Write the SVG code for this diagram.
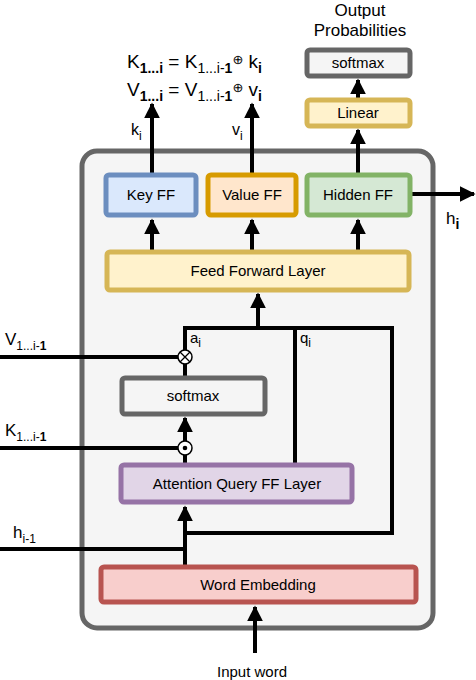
<svg xmlns="http://www.w3.org/2000/svg" width="476" height="680" viewBox="0 0 476 680">
<style>
text{font-family:"Liberation Sans",Arial,sans-serif;fill:#000}
.lbl{font-size:15px;text-anchor:middle}
.box{stroke-width:5}
.ln{stroke:#000;stroke-width:4;fill:none}
.sub{font-size:12px}
.fs{font-size:14px}
.op{font-size:13px;font-family:"DejaVu Sans",sans-serif}
</style>
<defs>
<marker id="ah" markerWidth="4" markerHeight="4" refX="3.6" refY="2" orient="auto" markerUnits="strokeWidth">
<path d="M0,0 L4,2 L0,4 Z" fill="#000"/>
</marker>
</defs>
<rect x="82" y="151" width="351" height="477" rx="15" fill="#f5f5f5" stroke="#666666" stroke-width="5"/>
<g id="connectors">
<path class="ln" d="M152,175 V104" marker-end="url(#ah)"/>
<path class="ln" d="M252,175 V104" marker-end="url(#ah)"/>
<path class="ln" d="M358,175 V130" marker-end="url(#ah)"/>
<path class="ln" d="M358,98 V80" marker-end="url(#ah)"/>
<path class="ln" d="M412,194 H474" marker-end="url(#ah)"/>
<path class="ln" d="M152,250 V220" marker-end="url(#ah)"/>
<path class="ln" d="M252,250 V220" marker-end="url(#ah)"/>
<path class="ln" d="M358,250 V220" marker-end="url(#ah)"/>
<path class="ln" d="M258,328 V294" marker-end="url(#ah)"/>
<path class="ln" d="M185,350 V328 H392 V533 H185"/>
<path class="ln" d="M295,328 V463"/>
<path class="ln" d="M185,364 V376"/>
<path class="ln" d="M0,357 H178"/>
<path class="ln" d="M185,441 V418" marker-end="url(#ah)"/>
<path class="ln" d="M0,448 H178"/>
<path class="ln" d="M185,455 V463"/>
<path class="ln" d="M185,565 V507" marker-end="url(#ah)"/>
<path class="ln" d="M0,549 H185"/>
<path class="ln" d="M255,653 V607" marker-end="url(#ah)"/>
</g>
<g id="mul">
<circle cx="185" cy="357" r="7" fill="#fff" stroke="#000" stroke-width="1.5"/>
<path d="M180,352 L190,362 M190,352 L180,362" stroke="#000" stroke-width="1.3"/>
</g>
<g id="dot">
<circle cx="185" cy="448" r="7" fill="#fff" stroke="#000" stroke-width="1.5"/>
<circle cx="185" cy="448" r="2.3" fill="#000"/>
</g>
<g id="keyff">
<rect class="box" x="106" y="175" width="90" height="40" rx="3" fill="#dae8fc" stroke="#6c8ebf"/>
<text class="lbl" x="151" y="200">Key FF</text>
</g>
<g id="valueff">
<rect class="box" x="208" y="175" width="88" height="40" rx="3" fill="#ffe6cc" stroke="#d79b00"/>
<text class="lbl" x="252" y="200">Value FF</text>
</g>
<g id="hiddenff">
<rect class="box" x="307" y="175" width="103" height="40" rx="3" fill="#d5e8d4" stroke="#82b366"/>
<text class="lbl" x="358" y="200">Hidden FF</text>
</g>
<g id="linear">
<rect class="box" x="307" y="100" width="103" height="26" rx="3" fill="#fff2cc" stroke="#d6b656"/>
<text class="lbl" x="358" y="118">Linear</text>
</g>
<g id="softmax-top">
<rect class="box" x="307" y="50" width="103" height="26" rx="3" fill="#f5f5f5" stroke="#666666"/>
<text class="lbl" x="358" y="68" fill="#333">softmax</text>
</g>
<g id="ffl">
<rect class="box" x="107" y="252" width="302" height="38" rx="3" fill="#fff2cc" stroke="#d6b656"/>
<text class="lbl" x="258" y="276">Feed Forward Layer</text>
</g>
<g id="softmax">
<rect class="box" x="122" y="378" width="143" height="36" rx="3" fill="#f5f5f5" stroke="#666666"/>
<text class="lbl" x="193" y="401" fill="#333">softmax</text>
</g>
<g id="attn">
<rect class="box" x="121" y="465" width="231" height="37" rx="3" fill="#e1d5e7" stroke="#9673a6"/>
<text class="lbl" x="237" y="489">Attention Query FF Layer</text>
</g>
<g id="emb">
<rect class="box" x="101" y="567" width="315" height="35" rx="3" fill="#f8cecc" stroke="#b85450"/>
<text class="lbl" x="258" y="590">Word Embedding</text>
</g>
<g id="labels">
<text x="360" y="16" class="lbl" style="font-size:17px">Output</text>
<text x="360" y="36" class="lbl" style="font-size:17px">Probabilities</text>
<text x="127" y="68" font-size="19">K<tspan class="fs" font-weight="bold" dy="5">1...i</tspan><tspan dy="-5"> = K</tspan><tspan class="fs" dy="5">1...i-</tspan><tspan class="fs" font-weight="bold">1</tspan><tspan class="op" dy="-9">⊕</tspan><tspan dy="4"> k</tspan><tspan class="fs" font-weight="bold" dy="5">i</tspan></text>
<text x="127" y="96" font-size="19">V<tspan class="fs" font-weight="bold" dy="5">1...i</tspan><tspan dy="-5"> = V</tspan><tspan class="fs" dy="5">1...i-</tspan><tspan class="fs" font-weight="bold">1</tspan><tspan class="op" dy="-9">⊕</tspan><tspan dy="4"> v</tspan><tspan class="fs" font-weight="bold" dy="5">i</tspan></text>
<text x="131" y="135" font-size="16">k<tspan class="sub" dy="5">i</tspan></text>
<text x="232" y="135" font-size="16">v<tspan class="sub" dy="5">i</tspan></text>
<text x="446" y="224" font-size="17">h<tspan class="fs" font-weight="bold" dy="5">i</tspan></text>
<text x="190" y="343" font-size="15">a<tspan class="sub" dy="4">i</tspan></text>
<text x="300" y="343" font-size="15">q<tspan class="sub" dy="4">i</tspan></text>
<text x="5" y="345" font-size="17">V<tspan class="sub" dy="5">1...i-</tspan><tspan class="sub" font-weight="bold">1</tspan></text>
<text x="5" y="436" font-size="17">K<tspan class="sub" dy="5">1...i-</tspan><tspan class="sub" font-weight="bold">1</tspan></text>
<text x="13" y="538" font-size="17">h<tspan class="sub" dy="5">i-1</tspan></text>
<text x="252" y="677" class="lbl">Input word</text>
</g>
</svg>
